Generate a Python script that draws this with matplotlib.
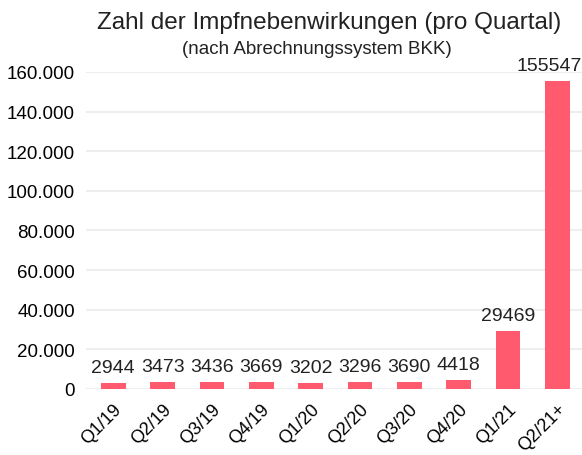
import numpy as np
import matplotlib.pyplot as plt

quarters = ["Q1/19", "Q2/19", "Q3/19", "Q4/19", "Q1/20", "Q2/20", "Q3/20", "Q4/20", "Q1/21", "Q2/21+"]
counts = [2944, 3473, 3436, 3669, 3202, 3296, 3690, 4418, 29469, 155547]
yticks = [0, 20000, 40000, 60000, 80000, 100000, 120000, 140000, 160000]
ytick_labels = ["0", "20.000", "40.000", "60.000", "80.000", "100.000", "120.000", "140.000", "160.000"]

plt.rcParams['font.family'] = ['Liberation Sans', 'DejaVu Sans']

fig = plt.figure(figsize=(5.82, 4.56), dpi=100)
ax = fig.add_axes([0.148, 0.145, 0.852, 0.695])

x = np.arange(len(quarters))
ax.bar(x, counts, width=0.5, color="#ff5a6e", zorder=3)
for xi, v in zip(x, counts):
    dx = -6 if v > 100000 else 0
    ax.annotate(str(v), (xi, v), xytext=(dx, 5), textcoords="offset points",
                ha="center", va="bottom", fontsize=14, color="#222222")

ax.set_xlim(-0.55, 9.5)
ax.set_ylim(0, 160000)
ax.set_yticks(yticks)
ax.set_yticklabels(ytick_labels, fontsize=13.5)
ax.set_xticks(x)
ax.set_xticklabels(quarters, rotation=45, ha="right", rotation_mode="anchor", fontsize=13)
ax.tick_params(length=0, pad=8)
ax.grid(axis="y", color="#eeeeee", linewidth=1.5, zorder=0)
for s in ax.spines.values():
    s.set_visible(False)

fig.text(0.566, 0.95, "Zahl der Impfnebenwirkungen (pro Quartal)", ha="center", va="center", fontsize=17.5, color="#222222")
fig.text(0.545, 0.892, "(nach Abrechnungssystem BKK)", ha="center", va="center", fontsize=13.5, color="#222222")

fig.savefig("out.png", dpi=100)
